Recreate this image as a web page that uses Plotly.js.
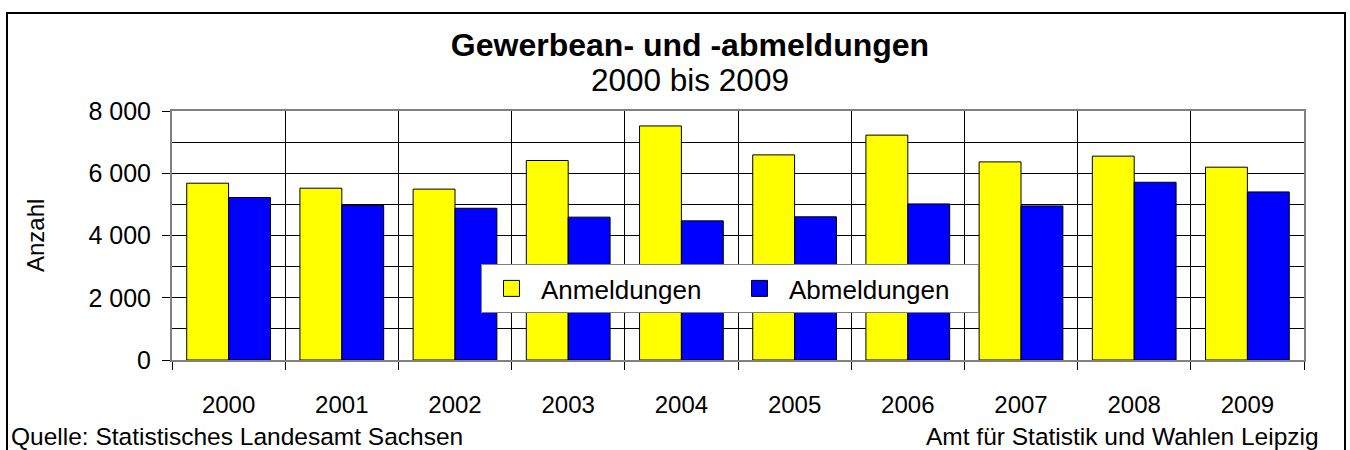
<!DOCTYPE html>
<html>
<head>
<meta charset="utf-8">
<script src="https://cdn.plot.ly/plotly-3.0.1.min.js"></script>
<style>body{margin:0;padding:0;background:#fff;} #chart{width:1350px;height:450px;}</style>
</head>
<body>
<div id="chart"></div>
<script>
const years = ["2000","2001","2002","2003","2004","2005","2006","2007","2008","2009"];
const anmeldungen = [5680, 5520, 5490, 6410, 7520, 6590, 7225, 6365, 6550, 6195];
const abmeldungen = [5220, 4970, 4875, 4590, 4470, 4600, 5015, 4950, 5710, 5400];
const yTickVals = [0, 2000, 4000, 6000, 8000];
const yTickText = ["0", "2 000", "4 000", "6 000", "8 000"];
const seriesNames = ["Anmeldungen", "Abmeldungen"];
const seriesColors = ["#FFFF00", "#0000FF"];

const FONT = "Liberation Sans, Arial, sans-serif";

const traces = [
  {type: "bar", name: seriesNames[0], x: years, y: anmeldungen, showlegend: false,
   marker: {color: seriesColors[0], line: {color: "#000000", width: 1}}},
  {type: "bar", name: seriesNames[1], x: years, y: abmeldungen, showlegend: false,
   marker: {color: seriesColors[1], line: {color: "#000000", width: 1}}},
  // legend entries (larger square symbols)
  {type: "scatter", mode: "markers", name: seriesNames[0], x: [null], y: [null], showlegend: true,
   marker: {symbol: "square", size: 16, color: seriesColors[0], line: {color: "#000000", width: 1}}},
  {type: "scatter", mode: "markers", name: seriesNames[1], x: [null], y: [null], showlegend: true,
   marker: {symbol: "square", size: 16, color: seriesColors[1], line: {color: "#000000", width: 1}}}
];

const W = 1350, H = 450, L = 172, R = 46, T = 111, B = 90;
const pw = W - L - R, ph = H - T - B;
const px = v => (v - L) / pw;
const py = v => (H - B - v) / ph;

const layout = {
  width: W, height: H,
  margin: {l: L, r: R, t: T, b: B, pad: 0},
  paper_bgcolor: "#ffffff", plot_bgcolor: "#ffffff",
  font: {family: FONT, color: "#000000", size: 24},
  title: {text: "<b>Gewerbean- und -abmeldungen</b>", x: 690 / W, xanchor: "center",
          y: 1 - 45 / H, yanchor: "middle", yref: "container",
          font: {family: FONT, size: 32, color: "#000000"}},
  barmode: "group", bargap: 0.26, bargroupgap: 0,
  showlegend: true,
  legend: {orientation: "h", x: px(481), y: py(264), xanchor: "left", yanchor: "top",
           bgcolor: "#ffffff", bordercolor: "#808080", borderwidth: 1,
           itemwidth: 49, entrywidth: 184, entrywidthmode: "pixels",
           font: {family: FONT, size: 26, color: "#000000"}},
  xaxis: {type: "category", tickson: "boundaries", showgrid: true, gridcolor: "#000000", gridwidth: 1,
          ticks: "outside", ticklen: 8, tickcolor: "#000000",
          showline: true, linecolor: "#808080", linewidth: 2, mirror: true,
          tickfont: {family: FONT, size: 24, color: "#000000"}, ticklabelstandoff: 22,
          zeroline: false, fixedrange: true},
  yaxis: {range: [0, 8000], tickvals: yTickVals, ticktext: yTickText,
          showgrid: true, gridcolor: "#000000", gridwidth: 1,
          minor: {dtick: 1000, showgrid: true, gridcolor: "#000000", gridwidth: 1},
          ticks: "outside", ticklen: 8, tickcolor: "#000000",
          showline: true, linecolor: "#808080", linewidth: 2, mirror: true,
          tickfont: {family: FONT, size: 25, color: "#000000"}, ticklabelstandoff: 6,
          zeroline: false, fixedrange: true},
  shapes: [
    {type: "rect", xref: "paper", yref: "paper", x0: px(7), x1: px(1345), y0: py(452), y1: py(13),
     line: {color: "#000000", width: 2}, fillcolor: "rgba(0,0,0,0)", layer: "below"}
  ],
  annotations: [
    {text: "2000 bis 2009", xref: "paper", yref: "paper", x: px(690), y: py(80),
     xanchor: "center", yanchor: "middle", showarrow: false,
     font: {family: FONT, size: 31.5, color: "#000000"}},
    {text: "Anzahl", xref: "paper", yref: "paper", x: px(35), y: py(236),
     xanchor: "center", yanchor: "middle", textangle: -90, showarrow: false,
     font: {family: FONT, size: 24, color: "#000000"}},
    {text: "Quelle: Statistisches Landesamt Sachsen", xref: "paper", yref: "paper", x: px(9), y: py(436),
     xanchor: "left", yanchor: "middle", showarrow: false,
     font: {family: FONT, size: 24.5, color: "#000000"}},
    {text: "Amt für Statistik und Wahlen Leipzig", xref: "paper", yref: "paper", x: px(1321), y: py(436),
     xanchor: "right", yanchor: "middle", showarrow: false,
     font: {family: FONT, size: 24.5, color: "#000000"}}
  ]
};

Plotly.newPlot("chart", traces, layout, {displayModeBar: false, staticPlot: true});
</script>
</body>
</html>
